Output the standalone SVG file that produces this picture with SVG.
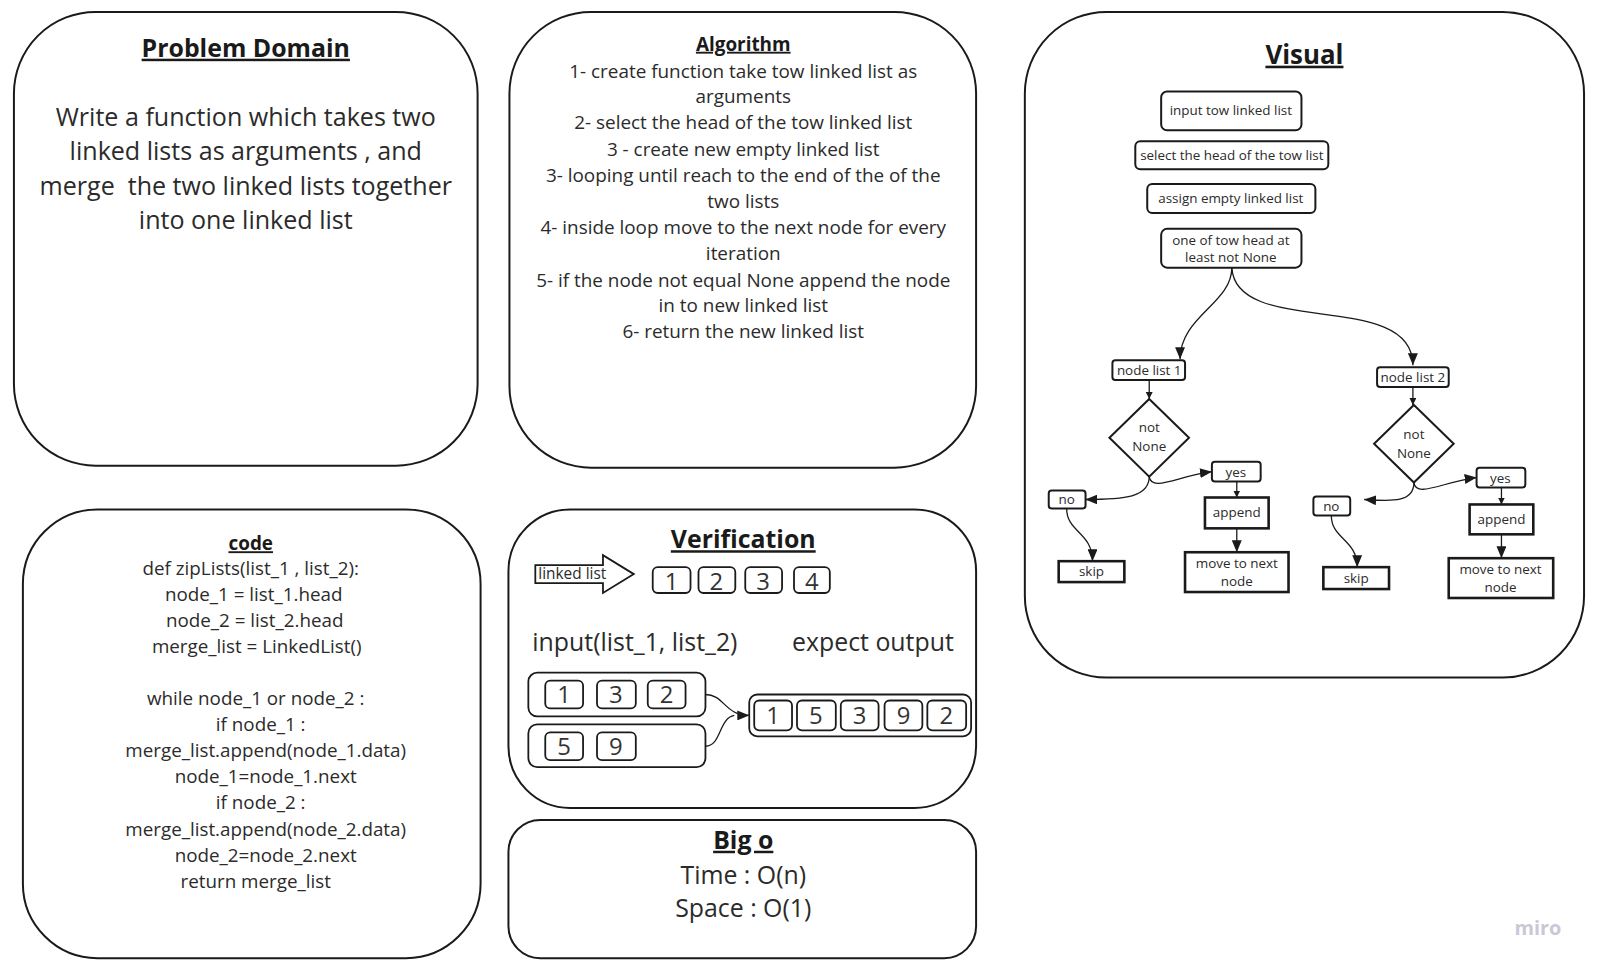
<svg xmlns="http://www.w3.org/2000/svg" width="1602" height="975" viewBox="0 0 1602 975">
<defs>
<marker id="ah" viewBox="0 0 12 10" refX="12" refY="5" markerWidth="12" markerHeight="10" markerUnits="userSpaceOnUse" orient="auto">
<path d="M0,0 L12,5 L0,10 Z" fill="#1a1a1a"/>
</marker>
<marker id="ahs" viewBox="0 0 8 8" refX="8" refY="4" markerWidth="7" markerHeight="7" markerUnits="userSpaceOnUse" orient="auto">
<path d="M0,0 L8,4 L0,8 Z" fill="#1a1a1a"/>
</marker>
</defs>
<style>
text{font-family:"Open Sans","Noto Sans","Liberation Sans",sans-serif;fill:#2b2b2b;}
.panel{fill:#fff;stroke:#1a1a1a;stroke-width:2;}
.title{font-weight:bold;fill:#1a1a1a;text-anchor:middle;text-decoration:underline;}
.c{text-anchor:middle;}
.pd{font-size:25.2px;text-anchor:middle;}
.alg{font-size:19px;text-anchor:middle;}
.code{font-size:18.9px;text-anchor:middle;}
.fb{fill:#fff;stroke:#1a1a1a;stroke-width:2;}
.fbs{fill:#fff;stroke:#1a1a1a;stroke-width:2.6;}
.ft{font-size:13.5px;text-anchor:middle;}
.num{font-size:24px;text-anchor:middle;fill:#333;}
.nb{fill:#fff;stroke:#1a1a1a;stroke-width:1.8;}
.con{fill:none;stroke:#1a1a1a;stroke-width:1.3;}
</style>
<rect width="1602" height="975" fill="#fff"/>
<g transform="scale(0.995)">
<g id="problem-domain">
<rect class="panel" x="14" y="12" width="466" height="456" rx="82"/>
<text class="title" x="247" y="57" font-size="25">Problem Domain</text>
<text class="pd" x="247" y="127">Write a function which takes two</text>
<text class="pd" x="247" y="161">linked lists as arguments , and</text>
<text class="pd" x="247" y="196" xml:space="preserve">merge  the two linked lists together</text>
<text class="pd" x="247" y="230">into one linked list</text>
</g>

<g id="algorithm">
<rect class="panel" x="512" y="12" width="469" height="458" rx="82"/>
<text class="title" x="747" y="51" font-size="19">Algorithm</text>
<text class="alg" x="747" y="78">1- create function take tow linked list as</text>
<text class="alg" x="747" y="104">arguments</text>
<text class="alg" x="747" y="130">2- select the head of the tow linked list</text>
<text class="alg" x="747" y="157">3 - create new empty linked list</text>
<text class="alg" x="747" y="183">3- looping until reach to the end of the of the</text>
<text class="alg" x="747" y="209">two lists</text>
<text class="alg" x="747" y="235">4- inside loop move to the next node for every</text>
<text class="alg" x="747" y="261">iteration</text>
<text class="alg" x="747" y="288">5- if the node not equal None append the node</text>
<text class="alg" x="747" y="314">in to new linked list</text>
<text class="alg" x="747" y="340">6- return the new linked list</text>
</g>

<g id="code">
<rect class="panel" x="23" y="512" width="460" height="451" rx="75"/>
<text class="title" x="252" y="553" font-size="19">code</text>
<text class="code" x="252" y="578">def zipLists(list_1 , list_2):</text>
<text class="code" x="255" y="604">node_1 = list_1.head</text>
<text class="code" x="256" y="630">node_2 = list_2.head</text>
<text class="code" x="258" y="656">merge_list = LinkedList()</text>
<text class="code" x="257" y="709">while node_1 or node_2 :</text>
<text class="code" x="262" y="735">if node_1 :</text>
<text class="code" x="267" y="761">merge_list.append(node_1.data)</text>
<text class="code" x="267" y="787">node_1=node_1.next</text>
<text class="code" x="262" y="813">if node_2 :</text>
<text class="code" x="267" y="840">merge_list.append(node_2.data)</text>
<text class="code" x="267" y="866">node_2=node_2.next</text>
<text class="code" x="257" y="892">return merge_list</text>
</g>

<g id="verification">
<rect class="panel" x="511" y="512" width="470" height="300" rx="62"/>
<text class="title" x="747" y="551" font-size="25">Verification</text>
<polygon points="538,568 606,568 606,558 637,577 606,596 606,586 538,586" fill="#fff" stroke="#1a1a1a" stroke-width="1.8"/>
<text x="541" y="582" font-size="15.5">linked list</text>
<rect class="nb" x="656" y="570" width="38" height="26" rx="5"/><text class="num" x="675" y="593">1</text>
<rect class="nb" x="702" y="570" width="37" height="26" rx="5"/><text class="num" x="720" y="593">2</text>
<rect class="nb" x="749" y="570" width="37" height="26" rx="5"/><text class="num" x="767" y="593">3</text>
<rect class="nb" x="798" y="570" width="36" height="26" rx="5"/><text class="num" x="816" y="593">4</text>
<text x="535" y="654" font-size="25">input(list_1, list_2)</text>
<text x="796" y="654" font-size="25">expect output</text>
<rect class="nb" x="531" y="676" width="178" height="44" rx="9"/>
<rect class="nb" x="548" y="684" width="38" height="28" rx="5"/><text class="num" x="567" y="707">1</text>
<rect class="nb" x="600" y="684" width="39" height="28" rx="5"/><text class="num" x="619" y="707">3</text>
<rect class="nb" x="651" y="684" width="38" height="28" rx="5"/><text class="num" x="670" y="707">2</text>
<rect class="nb" x="531" y="728" width="178" height="43" rx="9"/>
<rect class="nb" x="548" y="736" width="38" height="28" rx="5"/><text class="num" x="567" y="759">5</text>
<rect class="nb" x="600" y="736" width="39" height="28" rx="5"/><text class="num" x="619" y="759">9</text>
<rect class="nb" x="753" y="698" width="223" height="42" rx="8"/>
<rect class="nb" x="758" y="704" width="38" height="30" rx="5"/><text class="num" x="777" y="728">1</text>
<rect class="nb" x="801" y="704" width="39" height="30" rx="5"/><text class="num" x="820" y="728">5</text>
<rect class="nb" x="845" y="704" width="38" height="30" rx="5"/><text class="num" x="864" y="728">3</text>
<rect class="nb" x="889" y="704" width="38" height="30" rx="5"/><text class="num" x="908" y="728">9</text>
<rect class="nb" x="932" y="704" width="39" height="30" rx="5"/><text class="num" x="951" y="728">2</text>
</g>

<g id="big-o">
<rect class="panel" x="511" y="824" width="470" height="139" rx="32"/>
<text class="title" x="747" y="853" font-size="25">Big o</text>
<text class="c" x="747" y="888" font-size="25">Time : O(n)</text>
<text class="c" x="747" y="922" font-size="25">Space : O(1)</text>
</g>

<g id="visual">
<rect class="panel" x="1030" y="12" width="562" height="669" rx="82"/>
<text class="title" x="1311" y="64" font-size="26">Visual</text>
</g>
<g id="n-input"><rect class="fb" x="1167" y="92" width="141" height="39" rx="6"/><text class="ft" x="1237" y="116">input tow linked list</text></g>
<g id="n-select"><rect class="fb" x="1141" y="142" width="194" height="28" rx="5"/><text class="ft" x="1238" y="161">select the head of the tow list</text></g>
<g id="n-assign"><rect class="fb" x="1153" y="185" width="169" height="29" rx="5"/><text class="ft" x="1237" y="204">assign empty linked list</text></g>
<g id="n-loop"><rect class="fb" x="1167" y="230" width="141" height="39" rx="6"/><text class="ft" x="1237" y="246">one of tow head at</text><text class="ft" x="1237" y="263">least not None</text></g>

<g id="n-list1"><rect class="fb" x="1118" y="362" width="73" height="20" rx="3"/><text class="ft" x="1155" y="377">node list 1</text></g>
<g id="n-dia1"><polygon class="fb" points="1155,401 1195,440 1155,479 1115,440"/><text class="ft" x="1155" y="434">not</text><text class="ft" x="1155" y="453">None</text></g>
<g id="n-yes1"><rect class="fb" x="1218" y="464" width="49" height="20" rx="3"/><text class="ft" x="1242" y="479">yes</text></g>
<g id="n-no1"><rect class="fb" x="1054" y="493" width="37" height="18" rx="3"/><text class="ft" x="1072" y="507">no</text></g>
<g id="n-append1"><rect class="fbs" x="1211" y="500" width="64" height="31"/><text class="ft" x="1243" y="520">append</text></g>
<g id="n-move1"><rect class="fbs" x="1191" y="555" width="104" height="40"/><text class="ft" x="1243" y="571">move to next</text><text class="ft" x="1243" y="589">node</text></g>
<g id="n-skip1"><rect class="fbs" x="1064" y="564" width="66" height="21"/><text class="ft" x="1097" y="579">skip</text></g>

<g id="n-list2"><rect class="fb" x="1384" y="369" width="72" height="20" rx="3"/><text class="ft" x="1420" y="384">node list 2</text></g>
<g id="n-dia2"><polygon class="fb" points="1421,407 1461,446 1421,485 1381,446"/><text class="ft" x="1421" y="441">not</text><text class="ft" x="1421" y="460">None</text></g>
<g id="n-yes2"><rect class="fb" x="1484" y="470" width="49" height="20" rx="3"/><text class="ft" x="1508" y="485">yes</text></g>
<g id="n-no2"><rect class="fb" x="1320" y="499" width="37" height="19" rx="3"/><text class="ft" x="1338" y="514">no</text></g>
<g id="n-append2"><rect class="fbs" x="1477" y="507" width="64" height="30"/><text class="ft" x="1509" y="527">append</text></g>
<g id="n-move2"><rect class="fbs" x="1456" y="561" width="105" height="40"/><text class="ft" x="1508" y="577">move to next</text><text class="ft" x="1508" y="595">node</text></g>
<g id="n-skip2"><rect class="fbs" x="1330" y="570" width="66" height="22"/><text class="ft" x="1363" y="586">skip</text></g>

<g id="connectors">
<path class="con" d="M1238,269 C1238,305 1186,318 1186,361" marker-end="url(#ah)"/>
<path class="con" d="M1238,269 C1242,340 1420,290 1420,367" marker-end="url(#ah)"/>
<path class="con" d="M1155,382 L1155,401" marker-end="url(#ahs)"/>
<path class="con" d="M1155,479 C1157,495 1185,478 1218,474" marker-end="url(#ah)"/>
<path class="con" d="M1155,479 C1155,500 1130,502 1091,502" marker-end="url(#ah)"/>
<path class="con" d="M1243,484 L1243,500" marker-end="url(#ahs)"/>
<path class="con" d="M1243,531 L1243,555" marker-end="url(#ah)"/>
<path class="con" d="M1072,511 C1072,535 1098,535 1098,564" marker-end="url(#ah)"/>
<path class="con" d="M1420,389 L1420,407" marker-end="url(#ahs)"/>
<path class="con" d="M1421,485 C1423,501 1451,484 1484,480" marker-end="url(#ah)"/>
<path class="con" d="M1421,485 C1421,505 1400,504 1371,502" marker-end="url(#ah)"/>
<path class="con" d="M1509,490 L1509,507" marker-end="url(#ahs)"/>
<path class="con" d="M1509,537 L1509,561" marker-end="url(#ah)"/>
<path class="con" d="M1338,518 C1338,542 1364,542 1364,570" marker-end="url(#ah)"/>
<path class="con" d="M709,698 C728,698 728,719 753,719" marker-end="url(#ah)"/>
<path class="con" d="M709,750 C725,750 722,722 738,719"/>
</g>

<text x="1522" y="940" font-size="20" font-weight="bold" style="fill:#c9c9d6">miro</text>
</g>
</svg>
